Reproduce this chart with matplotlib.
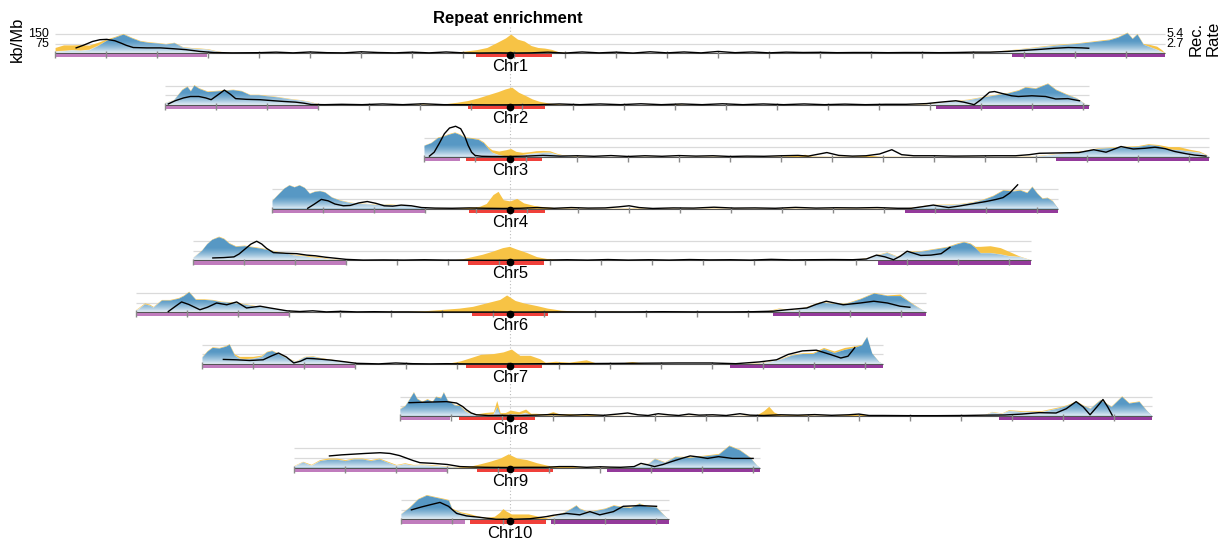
import numpy as np
import matplotlib.pyplot as plt

plt.rcParams['font.family'] = ['Liberation Sans', 'DejaVu Sans']

# chromosome layout, Mb
chrom_names = ["Chr1", "Chr2", "Chr3", "Chr4", "Chr5", "Chr6", "Chr7", "Chr8", "Chr9", "Chr10"]
chrom_len = [326.5, 271.8, 230.9, 231.2, 246.5, 232.4, 200.3, 221.2, 137.0, 78.8]
centromere = [133.8, 101.5, 25.3, 70.0, 93.2, 110.0, 90.6, 32.4, 63.5, 32.1]
left_arm_end = [44.7, 45.0, 10.6, 45.0, 45.0, 45.0, 45.0, 14.7, 45.0, 18.8]
peri_start = [123.8, 89.1, 12.4, 57.9, 80.9, 98.8, 77.6, 17.4, 53.8, 20.3]
peri_end = [146.2, 111.8, 34.7, 80.3, 103.2, 121.2, 100.0, 39.7, 76.2, 42.6]
right_arm_start = [281.5, 226.8, 185.9, 186.2, 201.5, 187.4, 155.3, 176.2, 92.0, 44.1]

# repeat density (kb/Mb): (position Mb, blue repeats, gold repeats stacked on top)
chr1_dens = [(0, 15, 30), (2.5, 20, 45), (5, 25, 40), (7.5, 22, 45), (10, 28, 35), (12.5, 60, 25),
             (15, 100, 10), (17.5, 125, 6), (20, 150, 5), (22.5, 120, 5), (25, 95, 5), (27.5, 85, 5),
             (30, 80, 4), (32.5, 72, 4), (35, 82, 4), (37.5, 48, 4), (40, 40, 5), (42.5, 35, 6),
             (45, 30, 5), (47.5, 15, 4), (50, 6, 3), (55, 1, 3), (60, 0, 3), (70, 0, 4), (80, 0, 2),
             (90, 0, 5), (100, 0, 3), (110, 0, 4), (115, 0, 5), (118, 0, 10), (121, 0, 18), (124, 0, 28),
             (127, 0, 45), (130, 0, 85), (132.5, 0, 120), (134, 0, 150), (136, 0, 110), (138, 0, 95),
             (140, 0, 60), (142, 0, 45), (144, 0, 40), (146, 0, 30), (148, 0, 12), (151, 0, 6),
             (160, 0, 4), (170, 0, 6), (180, 0, 3), (190, 0, 5), (200, 0, 3), (210, 0, 4), (220, 0, 6),
             (230, 0, 3), (240, 0, 5), (250, 0, 3), (260, 0, 3), (265, 2, 4), (270, 5, 4), (275, 10, 4),
             (280, 20, 5), (285, 35, 5), (290, 50, 6), (295, 65, 6), (300, 75, 5), (305, 90, 5),
             (310, 105, 6), (312.5, 125, 5), (315.3, 160, 5), (316.8, 115, 5), (318.2, 150, 5),
             (320, 70, 6), (322, 50, 18), (324, 30, 25), (325.5, 12, 15), (326.5, 0, 0)]
chr2_dens = [(0, 18, 3), (2.5, 40, 3), (5, 120, 5), (6.5, 145, 5), (7.5, 110, 5), (8.5, 155, 5),
             (10, 130, 5), (12.5, 105, 5), (15, 110, 5), (17.5, 115, 4), (20, 120, 4), (22.5, 110, 4),
             (25, 80, 4), (27.5, 80, 4), (30, 72, 4), (32.5, 65, 4), (35, 55, 4), (37.5, 45, 4),
             (40, 38, 4), (42.5, 25, 4), (45, 8, 4), (47.5, 2, 4), (50, 0, 3), (60, 0, 3), (70, 0, 3),
             (75, 0, 8), (80, 0, 6), (83, 0, 12), (86, 0, 22), (89, 0, 35), (92, 0, 55), (95, 0, 80),
             (98, 0, 105), (100, 0, 125), (102, 0, 140), (104, 0, 100), (106, 0, 75), (108, 0, 48),
             (110, 0, 30), (113, 0, 15), (116, 0, 8), (120, 0, 4), (130, 0, 3), (140, 0, 4), (150, 0, 10),
             (153, 0, 5), (160, 0, 3), (170, 0, 4), (180, 0, 3), (190, 0, 4), (200, 0, 3), (210, 0, 4),
             (220, 0, 6), (224, 5, 6), (228, 20, 6), (232, 30, 5), (236, 40, 6), (240, 60, 5),
             (244, 78, 5), (248, 95, 5), (251, 115, 5), (253, 140, 5), (256, 130, 5), (259.6, 168, 5),
             (262, 120, 5), (265, 85, 5), (268, 55, 4), (270.5, 10, 3), (271.8, 0, 0)]
chr3_dens = [(0, 90, 3), (2, 110, 3), (4, 150, 5), (5.5, 160, 5), (7, 175, 5), (9, 190, 5),
             (10.5, 175, 5), (12, 150, 6), (14, 145, 6), (16, 135, 6), (17.5, 110, 8), (19, 60, 15),
             (20, 35, 20), (22, 15, 30), (24, 5, 50), (25.5, 5, 60), (27, 8, 35), (29, 15, 20),
             (31, 25, 15), (33, 30, 18), (35, 35, 15), (37, 35, 12), (39, 20, 8), (41, 10, 5),
             (44, 3, 4), (48, 0, 3), (55, 0, 3), (65, 0, 4), (75, 0, 3), (85, 0, 5), (95, 0, 4),
             (105, 0, 6), (110, 0, 12), (112, 0, 20), (114, 0, 6), (120, 0, 4), (126, 0, 6),
             (131, 0, 12), (134, 0, 5), (140, 0, 4), (150, 0, 3), (160, 0, 4), (170, 0, 3),
             (178, 2, 4), (182, 10, 5), (186, 22, 5), (190, 35, 5), (194, 45, 5), (198, 65, 5),
             (202, 72, 5), (206, 78, 5), (210, 82, 6), (213, 95, 8), (216, 88, 8), (219, 60, 20),
             (222, 55, 25), (225, 45, 15), (228, 35, 10), (230, 15, 5), (230.9, 0, 0)]
chr4_dens = [(0, 65, 3), (2, 120, 3), (3.5, 160, 3), (5, 185, 3), (6.5, 170, 3), (8, 185, 3),
             (9.5, 165, 3), (11, 120, 3), (12.5, 135, 3), (14, 140, 3), (15.5, 130, 3), (17.5, 90, 3),
             (20, 65, 4), (22.5, 50, 4), (25, 40, 4), (27.5, 38, 4), (30, 32, 4), (32.5, 35, 4),
             (35, 32, 5), (37.5, 25, 5), (40, 25, 4), (42.5, 15, 4), (45, 6, 4), (50, 0, 4), (55, 0, 5),
             (58, 0, 10), (61, 0, 18), (63, 0, 40), (65, 0, 110), (66.5, 0, 135), (68, 0, 70),
             (70, 0, 60), (72, 0, 80), (74, 0, 45), (77, 0, 25), (80, 0, 15), (84, 0, 6), (90, 0, 4),
             (100, 0, 3), (110, 0, 5), (120, 0, 3), (130, 0, 4), (140, 0, 3), (150, 0, 4), (160, 0, 3),
             (170, 0, 4), (180, 0, 3), (186, 2, 4), (190, 12, 6), (193, 25, 6), (196, 30, 5),
             (200, 32, 5), (203, 38, 5), (206, 50, 5), (209, 70, 5), (212, 100, 5), (215, 145, 5),
             (218, 138, 5), (220, 145, 5), (222, 125, 5), (223.5, 172, 5), (225, 120, 5),
             (226.5, 80, 5), (228, 85, 5), (229.5, 60, 5), (231.2, 0, 0)]
chr5_dens = [(0, 25, 3), (2.5, 80, 3), (4, 130, 3), (5.5, 165, 3), (7.5, 185, 5), (9, 170, 5),
             (10.5, 135, 5), (12.5, 110, 5), (15, 115, 5), (17.5, 105, 5), (20, 95, 5), (22.5, 80, 5),
             (25, 65, 5), (27.5, 55, 5), (30, 40, 5), (32.5, 35, 8), (35, 25, 10), (37.5, 20, 8),
             (40, 10, 5), (45, 2, 3), (50, 0, 3), (60, 0, 4), (70, 0, 3), (76, 0, 5), (79, 0, 12),
             (82, 0, 30), (85, 0, 48), (88, 0, 72), (91, 0, 100), (93, 0, 110), (95, 0, 90),
             (98, 0, 63), (101, 0, 30), (104, 0, 15), (108, 0, 6), (115, 0, 4), (125, 0, 3),
             (135, 0, 4), (145, 0, 3), (155, 0, 5), (165, 0, 3), (175, 0, 4), (185, 0, 3), (192, 0, 5),
             (195, 5, 6), (198, 15, 6), (201, 40, 6), (204, 62, 5), (207, 30, 5), (210, 68, 5),
             (214, 72, 5), (218.7, 92, 5), (221.7, 105, 5), (224.6, 130, 6), (226.6, 145, 5),
             (228.6, 130, 6), (230, 100, 10), (231.5, 60, 50), (234.4, 60, 55), (237.4, 50, 50),
             (240, 35, 35), (243, 30, 5), (245.5, 10, 3), (246.5, 0, 0)]
chr6_dens = [(0, 15, 8), (2.5, 65, 8), (4, 55, 8), (5, 40, 6), (7.5, 95, 5), (10, 95, 5),
             (12.5, 110, 5), (14, 130, 5), (15.5, 160, 5), (17.5, 100, 5), (20, 100, 5), (22.5, 95, 5),
             (25, 82, 5), (27.5, 78, 5), (30, 70, 5), (32.5, 60, 5), (35, 48, 5), (37.5, 40, 5),
             (40, 30, 4), (42.5, 20, 4), (45, 8, 4), (50, 0, 4), (55, 0, 3), (60, 0, 5), (65, 0, 4),
             (70, 0, 6), (75, 0, 8), (80, 0, 8), (85, 0, 12), (90, 0, 22), (95, 0, 32), (99, 0, 46),
             (103, 0, 73), (107, 0, 100), (109, 0, 135), (111.5, 0, 92), (114, 0, 73), (118, 0, 51),
             (121, 0, 32), (125, 0, 16), (130, 0, 8), (135, 0, 6), (140, 0, 8), (145, 0, 5),
             (150, 0, 6), (155, 0, 5), (160, 0, 7), (165, 0, 5), (170, 0, 6), (175, 0, 4), (180, 0, 5),
             (185, 2, 6), (189, 25, 8), (193.3, 15, 5), (197.3, 42, 5), (201.2, 78, 5), (205, 70, 5),
             (209, 70, 5), (213, 105, 5), (217, 150, 5), (220.9, 130, 5), (224.7, 130, 12),
             (226.7, 95, 6), (228.6, 60, 5), (230.5, 30, 3), (232.4, 0, 0)]
chr7_dens = [(0, 55, 5), (1.5, 100, 5), (3, 130, 5), (5, 125, 5), (7, 140, 5), (8, 155, 5),
             (9.5, 70, 10), (11, 45, 15), (13, 40, 20), (15, 45, 15), (17.5, 60, 10), (19, 95, 5),
             (20.5, 105, 5), (22.5, 80, 5), (25, 45, 5), (27.5, 20, 5), (30, 55, 5), (32.5, 60, 5),
             (35, 45, 5), (37.5, 35, 5), (40, 25, 5), (42.5, 18, 4), (45, 10, 3), (50, 0, 3),
             (55, 0, 3), (60, 0, 4), (65, 0, 3), (70, 0, 5), (73, 0, 10), (76, 0, 25), (79, 0, 50),
             (82, 0, 76), (85.7, 0, 82), (88.6, 0, 95), (91, 0, 117), (93.5, 0, 68), (96.5, 0, 68),
             (99.4, 0, 41), (101, 0, 14), (104, 0, 22), (108, 0, 15), (113, 0, 33), (116, 0, 8),
             (120, 0, 5), (123, 0, 8), (126.5, 0, 20), (130, 0, 5), (140, 0, 4), (150, 0, 3),
             (160, 0, 5), (164, 5, 5), (167, 20, 6), (170.3, 40, 6), (173.4, 70, 6), (176.6, 82, 6),
             (179.6, 82, 8), (182.8, 120, 10), (185.9, 90, 12), (189, 115, 15), (192, 132, 10),
             (194, 150, 5), (195.5, 215, 3), (197, 85, 3), (199, 20, 2), (200.3, 0, 0)]
chr8_dens = [(0, 55, 5), (1.5, 80, 5), (2.5, 120, 5), (4, 185, 5), (5, 135, 5), (6.5, 110, 5),
             (8, 130, 5), (9.5, 110, 5), (10.5, 150, 5), (12, 140, 5), (12.8, 185, 5), (14, 120, 5),
             (15, 105, 5), (16, 85, 5), (17.5, 80, 6), (19, 40, 8), (20, 25, 8), (22.5, 5, 10),
             (25, 8, 18), (27.5, 12, 20), (28.5, 70, 50), (29.5, 10, 15), (31, 8, 18), (32.5, 15, 30),
             (35, 10, 22), (37, 25, 28), (38.5, 5, 15), (40, 5, 15), (43, 3, 12), (45, 3, 30),
             (47, 3, 12), (50, 2, 15), (53, 0, 8), (56, 0, 12), (60, 0, 5), (70, 0, 3), (80, 0, 4),
             (90, 0, 4), (100, 0, 4), (105, 0, 8), (107, 0, 40), (108.5, 0, 75), (110, 0, 30),
             (112, 0, 8), (118, 0, 10), (122, 0, 5), (130, 0, 8), (135, 0, 12), (140, 0, 5),
             (150, 0, 3), (160, 0, 3), (168, 0, 3), (172, 5, 5), (174, 30, 5), (177, 18, 5),
             (179, 40, 8), (183.4, 32, 8), (188.5, 32, 8), (193.7, 62, 8), (196, 80, 6),
             (198.9, 112, 5), (201, 80, 5), (203, 58, 5), (206, 125, 5), (209.2, 72, 5),
             (212.3, 152, 5), (214.4, 100, 5), (217.4, 112, 5), (219.5, 45, 3), (221.2, 0, 0)]
chr9_dens = [(0, 12, 6), (2.5, 45, 5), (5, 18, 8), (7.5, 55, 8), (10, 65, 10), (12.5, 65, 10),
             (15, 55, 8), (17.5, 68, 7), (20, 68, 7), (22.5, 55, 8), (25, 68, 7), (27.5, 42, 8),
             (30, 18, 7), (32.5, 30, 8), (35, 18, 7), (37.5, 22, 6), (40, 18, 7), (45, 8, 5),
             (48, 2, 5), (51.8, 0, 12), (54.7, 0, 30), (57.6, 0, 50), (60.6, 0, 75), (63, 0, 108),
             (65.5, 0, 75), (68.4, 0, 63), (71.4, 0, 38), (74.3, 0, 20), (77, 0, 8), (80, 0, 12),
             (84, 0, 5), (88, 0, 4), (92, 0, 3), (96, 2, 3), (100, 10, 3), (104, 30, 5), (106, 70, 5),
             (109, 42, 5), (112, 85, 6), (116.5, 80, 6), (120.6, 92, 6), (124.8, 105, 6),
             (127.9, 172, 5), (131, 138, 5), (134, 82, 4), (136, 20, 2), (137, 0, 0)]
chr10_dens = [(0, 45, 3), (2.5, 95, 5), (5, 160, 5), (7.5, 190, 5), (10, 175, 5), (12.5, 160, 6),
              (14, 150, 6), (15, 80, 8), (17.5, 50, 10), (20, 35, 12), (22.5, 18, 10), (25, 6, 10),
              (27.5, 5, 20), (29, 5, 50), (30, 5, 80), (31, 5, 60), (32.5, 5, 38), (35, 5, 38),
              (37.5, 5, 38), (40, 3, 25), (42.5, 3, 12), (45, 25, 8), (47.5, 50, 5), (50, 85, 5),
              (51.5, 110, 5), (52.5, 85, 5), (55, 60, 5), (57.5, 72, 5), (60, 85, 5), (62.5, 110, 5),
              (65, 98, 5), (67.5, 92, 5), (70, 125, 5), (72.5, 102, 5), (75, 98, 5), (77.5, 30, 3),
              (78.8, 0, 0)]

# recombination rate (cM/Mb): (position Mb, rate)
chr1_rec = [(6.2, 1.5), (8.5, 2.3), (11, 3.3), (13.2, 3.8), (15.2, 3.9), (17.6, 3.5), (19.5, 2.8),
            (21, 2.2), (23, 1.6), (27, 1.5), (31, 1.5), (35, 1.25), (38.5, 1.0), (42.6, 0.5),
            (46.6, 0.2), (52, 0.1), (60, 0.15), (65, 0.3), (70, 0.1), (75, 0.35), (80, 0.15),
            (85, 0.1), (90, 0.4), (95, 0.2), (100, 0.1), (105, 0.3), (110, 0.1), (115, 0.35),
            (120, 0.1), (125, 0.05), (130, 0.1), (135, 0.05), (140, 0.1), (145, 0.3), (150, 0.05),
            (155, 0.35), (160, 0.1), (165, 0.3), (170, 0.05), (175, 0.4), (180, 0.1), (185, 0.35),
            (190, 0.1), (195, 0.5), (200, 0.15), (205, 0.35), (210, 0.1), (215, 0.3), (220, 0.2),
            (225, 0.25), (230, 0.15), (235, 0.2), (240, 0.2), (245, 0.15), (250, 0.2), (255, 0.2),
            (260, 0.15), (265, 0.2), (270, 0.3), (275, 0.3), (280, 0.5), (285, 0.8), (290, 1.1),
            (294, 1.4), (298, 1.6), (302, 1.5), (304, 1.4)]
chr2_rec = [(1, 0.3), (3, 1.2), (5.5, 2.0), (7.5, 2.4), (10, 2.4), (12, 2.0), (13.6, 1.5),
            (15.5, 2.8), (17.5, 4.2), (19.3, 3.0), (20.8, 1.8), (24, 1.6), (28, 1.5), (32, 1.2),
            (35, 1.0), (38.5, 0.8), (41, 0.5), (43, 0.15), (47, 0.1), (52, 0.2), (58, 0.1),
            (64, 0.3), (70, 0.1), (76, 0.35), (82, 0.1), (88, 0.1), (95, 0.05), (102, 0.05),
            (110, 0.1), (116, 0.3), (122, 0.1), (128, 0.3), (134, 0.1), (140, 0.35), (146, 0.1),
            (152, 0.3), (158, 0.1), (164, 0.35), (170, 0.1), (176, 0.3), (182, 0.1), (188, 0.3),
            (194, 0.1), (200, 0.25), (206, 0.1), (212, 0.2), (218, 0.2), (224, 0.4), (228, 0.8),
            (232.6, 1.2), (235, 0.8), (238, 0.1), (240, 1.5), (242.5, 3.6), (244, 3.8), (246, 3.3),
            (249, 2.6), (251, 2.4), (255, 2.6), (259, 2.4), (262, 1.7), (265.6, 1.8), (269, 1.2)]
chr3_rec = [(1.6, 0.2), (3, 1.3), (4.5, 3.8), (6, 6.5), (7.5, 8.1), (9.3, 8.6), (10.8, 7.9),
            (12, 5.8), (13, 3.2), (14, 1.3), (15, 0.4), (17, 0.15), (20, 0.1), (25, 0.1), (30, 0.2),
            (35, 0.4), (40, 0.2), (45, 0.3), (50, 0.15), (55, 0.35), (60, 0.1), (65, 0.3), (70, 0.15),
            (75, 0.35), (80, 0.2), (85, 0.3), (90, 0.1), (95, 0.2), (100, 0.15), (105, 0.3),
            (110, 0.4), (113, 0.2), (118.5, 1.2), (122, 0.4), (126, 0.2), (130, 0.3), (134, 0.8),
            (137.6, 2.0), (140.5, 0.6), (144, 0.3), (150, 0.3), (156, 0.2), (162, 0.25), (168, 0.3),
            (174, 0.3), (178, 0.6), (181, 1.0), (187, 1.1), (192.6, 1.2), (197, 2.0), (200.6, 1.3),
            (205, 2.9), (208.6, 2.2), (212, 2.4), (215, 2.7), (218, 2.3), (220.8, 1.5), (224, 0.9),
            (226.6, 0.5), (230, 0.2)]
chr4_rec = [(10.5, 0.1), (12.5, 1.3), (14.5, 2.6), (16.5, 2.2), (18.5, 1.3), (21, 0.8), (23, 0.9),
            (25.5, 1.6), (28, 2.0), (30.5, 1.5), (33, 0.8), (35.5, 0.7), (38, 1.0), (41, 0.8),
            (44, 0.3), (48, 0.15), (53, 0.1), (58, 0.2), (63, 0.1), (68, 0.05), (73, 0.1), (78, 0.3),
            (83, 0.1), (88, 0.3), (93, 0.15), (98, 0.2), (102, 0.5), (105, 0.8), (108, 0.3),
            (112, 0.05), (118, 0.2), (124, 0.15), (130, 0.4), (136, 0.15), (142, 0.2), (148, 0.1),
            (154, 0.35), (160, 0.15), (166, 0.25), (172, 0.2), (178, 0.3), (184, 0.1), (188, 0.1),
            (191, 0.5), (194.5, 1.0), (197, 0.6), (199, 0.3), (202, 0.7), (205, 1.2), (210, 2.0),
            (213, 2.6), (215, 3.1), (217, 4.4), (219.3, 6.7)]
chr5_rec = [(5.8, 0.7), (9, 0.8), (12, 1.0), (13.5, 1.8), (15, 3.0), (17, 4.6), (18.7, 5.4),
            (20.2, 4.6), (21.6, 3.4), (23.6, 2.2), (27.5, 2.0), (30.5, 1.9), (33.4, 1.5), (36, 1.3),
            (39, 0.9), (42, 0.6), (45, 0.3), (50, 0.1), (56, 0.15), (62, 0.1), (68, 0.2), (74, 0.1),
            (80, 0.1), (86, 0.05), (92, 0.05), (98, 0.1), (104, 0.1), (110, 0.2), (116, 0.1),
            (122, 0.25), (128, 0.1), (134, 0.2), (140, 0.1), (146, 0.25), (152, 0.15), (158, 0.2),
            (164, 0.1), (170, 0.3), (176, 0.15), (182, 0.2), (188, 0.25), (194, 0.2), (198, 0.4),
            (201, 1.5), (203.5, 1.0), (206, 0.2), (208, 1.2), (210, 2.6), (212, 2.0), (214, 1.4),
            (217, 1.5), (220, 1.9), (222.6, 3.7)]
chr6_rec = [(9.5, 0.2), (11.5, 1.6), (13.4, 2.9), (15.5, 2.2), (18.8, 0.7), (21, 1.4), (23.7, 2.6),
            (26.7, 2.1), (29.6, 2.9), (32.5, 1.2), (36.5, 1.7), (39.4, 1.2), (44.4, 0.4), (48.2, 0.2),
            (52, 0.4), (56, 0.1), (60, 0.25), (65, 0.1), (70, 0.15), (75, 0.1), (80, 0.1), (85, 0.05),
            (95, 0.05), (105, 0.05), (115, 0.05), (125, 0.1), (135, 0.1), (145, 0.1), (155, 0.15),
            (165, 0.1), (175, 0.1), (181.5, 0.15), (187.5, 0.3), (191.4, 0.7), (197.3, 1.2),
            (200, 2.2), (203, 3.1), (205.5, 2.6), (208, 2.1), (213, 2.6), (217, 3.1), (221, 2.6),
            (224.7, 1.7), (227.6, 1.4)]
chr7_rec = [(6.3, 1.3), (10, 1.2), (14, 1.0), (18, 1.2), (20.5, 2.3), (22.5, 3.1), (24.8, 2.0),
            (27, 0.3), (29, 0.8), (30.8, 1.6), (33, 1.5), (35.7, 1.3), (38, 1.1), (40.6, 0.8),
            (45.5, 0.2), (52, 0.05), (57, 0.3), (62, 0.1), (67, 0.05), (72, 0.1), (78, 0.05),
            (85, 0.05), (92, 0.05), (100, 0.1), (108, 0.1), (116, 0.15), (124, 0.2), (132, 0.25),
            (140, 0.3), (149.7, 0.3), (157, 0.1), (164, 0.6), (169, 1.2), (172.4, 2.7), (176.6, 3.7),
            (180.7, 3.9), (184.8, 2.7), (187.9, 1.7), (190, 2.2), (192, 4.6)]
chr8_rec = [(2.7, 3.7), (6, 3.8), (10, 3.9), (13.7, 4.0), (16.7, 3.6), (18.5, 2.6), (19.6, 1.7),
            (21, 0.8), (22.5, 0.3), (26, 0.1), (30, 0.15), (35, 0.1), (40, 0.2), (45, 0.4), (50, 0.2),
            (55, 0.35), (60, 0.15), (64, 0.5), (67, 0.8), (70, 0.3), (73, 0.1), (76, 0.6), (79, 0.3),
            (82, 0.1), (85, 0.5), (88, 0.2), (92, 0.3), (96, 0.1), (100, 0.6), (103, 0.2), (107, 0.1),
            (112, 0.3), (117, 0.2), (122, 0.35), (127, 0.15), (132, 0.3), (135, 0.5), (138, 0.1),
            (142, 0.1), (150, 0.05), (158, 0.05), (166, 0.1), (172, 0.2), (178, 0.25), (183, 0.5),
            (188, 0.9), (193, 0.8), (196, 2.0), (198.9, 4.0), (201, 2.5), (203, 0.3), (205, 2.5),
            (206.8, 4.6), (208.2, 2.5), (209.5, 0.2)]
chr9_rec = [(10.4, 3.3), (14, 3.6), (17.5, 3.8), (21, 4.0), (25.3, 4.2), (28.2, 4.0), (31, 3.4),
            (33, 2.7), (35, 2.0), (37, 1.4), (41, 1.2), (45, 0.9), (48.8, 0.3), (52, 0.2), (56, 0.1),
            (62, 0.05), (68, 0.1), (74, 0.1), (78, 0.3), (82, 0.3), (86, 0.1), (90, 0.25), (93, 0.15),
            (96, 0.1), (100, 0.3), (102, 1.2), (104, 0.8), (106, 0.3), (108.5, 0.9), (111, 1.7),
            (114, 2.6), (116.5, 3.3), (119, 3.0), (121.6, 2.6), (124.8, 3.1), (128.9, 2.6),
            (132, 2.6), (135, 2.6)]
chr10_rec = [(3.1, 2.7), (6, 3.5), (8.5, 4.1), (11.5, 4.8), (14, 3.7), (16.4, 1.7), (19.3, 1.0),
             (23.2, 0.6), (28, 0.05), (33, 0.05), (38, 0.2), (42.8, 0.8), (45, 1.2), (48.7, 1.7),
             (52.6, 1.3), (55.6, 2.2), (58.5, 1.3), (62.5, 2.2), (65.4, 3.7), (70.3, 3.9), (75.2, 3.7)]

densities = [chr1_dens, chr2_dens, chr3_dens, chr4_dens, chr5_dens,
             chr6_dens, chr7_dens, chr8_dens, chr9_dens, chr10_dens]
rec_rates = [chr1_rec, chr2_rec, chr3_rec, chr4_rec, chr5_rec,
             chr6_rec, chr7_rec, chr8_rec, chr9_rec, chr10_rec]

BLUE = '#5798C4'
GOLD = '#F7C345'
GRID = '#DADADA'
TICK = '#8A8A8A'
ARM_L = '#C07CBD'
PERI = '#F0403A'
ARM_R = '#943A9B'

ROW = 405             # vertical distance between chromosome baselines (kb/Mb units)
REC_SCALE = 75 / 2.7  # 2.7 cM/Mb drawn at the 75 kb/Mb gridline
TICK_STEP = 15

fig = plt.figure(figsize=(12.3, 5.38), dpi=100)
ax = fig.add_axes([0, 0, 1, 1])
ax.axis('off')

# pale fade toward the baseline inside the blue areas
fade = np.ones((64, 2, 4))
fade[:, :, 3] = (0.85 * (1 - np.linspace(0, 1, 64)) ** 1.4)[:, None]

ybottom = -9 * ROW - 145
ax.vlines(0, ybottom, 215, color='#BDBDBD', lw=0.8, linestyles=(0, (1, 2)), zorder=0.5)

for i, name in enumerate(chrom_names):
    base = -i * ROW
    cen = centromere[i]
    x0, x1 = -cen, chrom_len[i] - cen

    ax.hlines([base + 75, base + 150], x0, x1, color=GRID, lw=0.9, zorder=1)

    pos, blue, gold = (np.array(v, dtype=float) for v in zip(*densities[i]))
    x = pos - cen
    ax.fill_between(x, base + blue, base + blue + gold, color=GOLD, lw=0, zorder=2)
    bpoly = ax.fill_between(x, base, base + blue, color=BLUE, lw=0, zorder=3)
    im = ax.imshow(fade, extent=[x0, x1, base, base + 95], origin='lower',
                   aspect='auto', interpolation='bilinear', zorder=3.5)
    im.set_clip_path(bpoly.get_paths()[0], transform=ax.transData)

    ax.hlines(base, x0, x1, color='#555555', lw=0.8, zorder=4)

    lefts = [0, peri_start[i], right_arm_start[i]]
    rights = [left_arm_end[i], peri_end[i], chrom_len[i]]
    ax.barh([base - 20] * 3, [r - l for l, r in zip(lefts, rights)],
            left=[l - cen for l in lefts], height=26,
            color=[ARM_L, PERI, ARM_R], lw=0, zorder=4)

    ticks = np.arange(0, chrom_len[i], TICK_STEP) - cen
    ax.vlines(ticks, base - 38, base + 14, color=TICK, lw=1, zorder=4.5)

    rp, rr = zip(*rec_rates[i])
    ax.plot(np.array(rp) - cen, base + np.array(rr) * REC_SCALE, color='black', lw=1,
            zorder=5, solid_joinstyle='round')

    ax.plot(0, base - 14, 'o', color='black', ms=4.5, zorder=6)
    ax.text(0, base - 106, name, ha='center', va='center', fontsize=12, zorder=7)

# axis annotations for the first row
ax.text(-135.5, 150, '150', ha='right', va='center', fontsize=9)
ax.text(-135.5, 75, '75', ha='right', va='center', fontsize=9)
ax.text(193, 150, '5.4', ha='left', va='center', fontsize=9)
ax.text(193, 75, '2.7', ha='left', va='center', fontsize=9)

ax.set_xlim(-150, 211.76)
ax.set_ylim(ybottom, 416)

fig.text(508 / 1230, 1 - 18 / 538, 'Repeat enrichment', ha='center', va='center',
         fontsize=12, fontweight='bold')
fig.text(17 / 1230, 1 - 39 / 538, 'kb/Mb', rotation=90, ha='center', va='center', fontsize=12)
fig.text(1205 / 1230, 1 - 56 / 538, 'Rec.\nRate', rotation=90, ha='center', va='bottom',
         multialignment='left', fontsize=12, linespacing=1.15)

fig.savefig('out.png', dpi=100)
